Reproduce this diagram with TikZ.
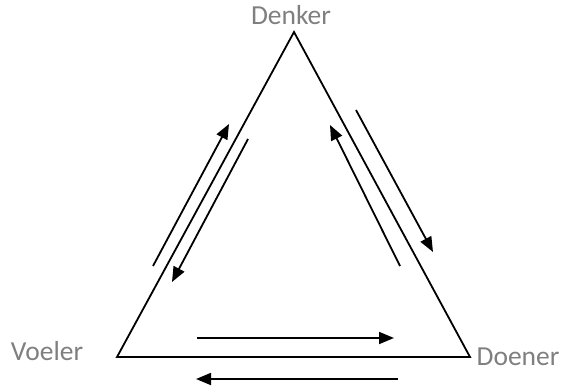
\documentclass[tikz,border=0pt]{standalone}
\usepackage{fontspec}
\setmainfont{Carlito}
\usetikzlibrary{arrows.meta}
\definecolor{labelgray}{HTML}{7F7F7F}
\tikzset{
  role/.style  = {text=labelgray, inner sep=0pt, font=\fontsize{27.5}{32}\selectfont},
  edge/.style  = {line width=1.8pt, black, line join=miter},
  flow/.style  = {-{Triangle[length=15pt,width=12pt]}, line width=1.8pt, black},
}

\begin{document}
\begin{tikzpicture}[x=1pt, y=-1pt]
  \useasboundingbox (0,0) rectangle (567,389);

  % vertices
  \coordinate (top) at (294,32);
  \coordinate (left) at (117,357);
  \coordinate (right) at (470,357);

  % labels
  \node[role] (denker) at (291,15) {Denker};
  \node[role] (voeler) at (47,351) {Voeler};
  \node[role] (doener) at (518,357) {Doener};

  % triangle
  \draw[edge] (top) -- (left) -- (right) -- cycle;

  % left side
  \coordinate (l1s) at (153,266);
  \coordinate (l1e) at (229,124);
  \coordinate (l2s) at (248,139);
  \coordinate (l2e) at (172,282);
  \draw[flow] (l1s) -- (l1e);
  \draw[flow] (l2s) -- (l2e);

  % right side
  \coordinate (r1s) at (356,110);
  \coordinate (r1e) at (433,252);
  \coordinate (r2s) at (400,266);
  \coordinate (r2e) at (330,125);
  \draw[flow] (r1s) -- (r1e);
  \draw[flow] (r2s) -- (r2e);

  % bottom
  \coordinate (b1s) at (197,338);
  \coordinate (b1e) at (394,338);
  \coordinate (b2s) at (398,379);
  \coordinate (b2e) at (196,379);
  \draw[flow] (b1s) -- (b1e);
  \draw[flow] (b2s) -- (b2e);
\end{tikzpicture}
\end{document}
